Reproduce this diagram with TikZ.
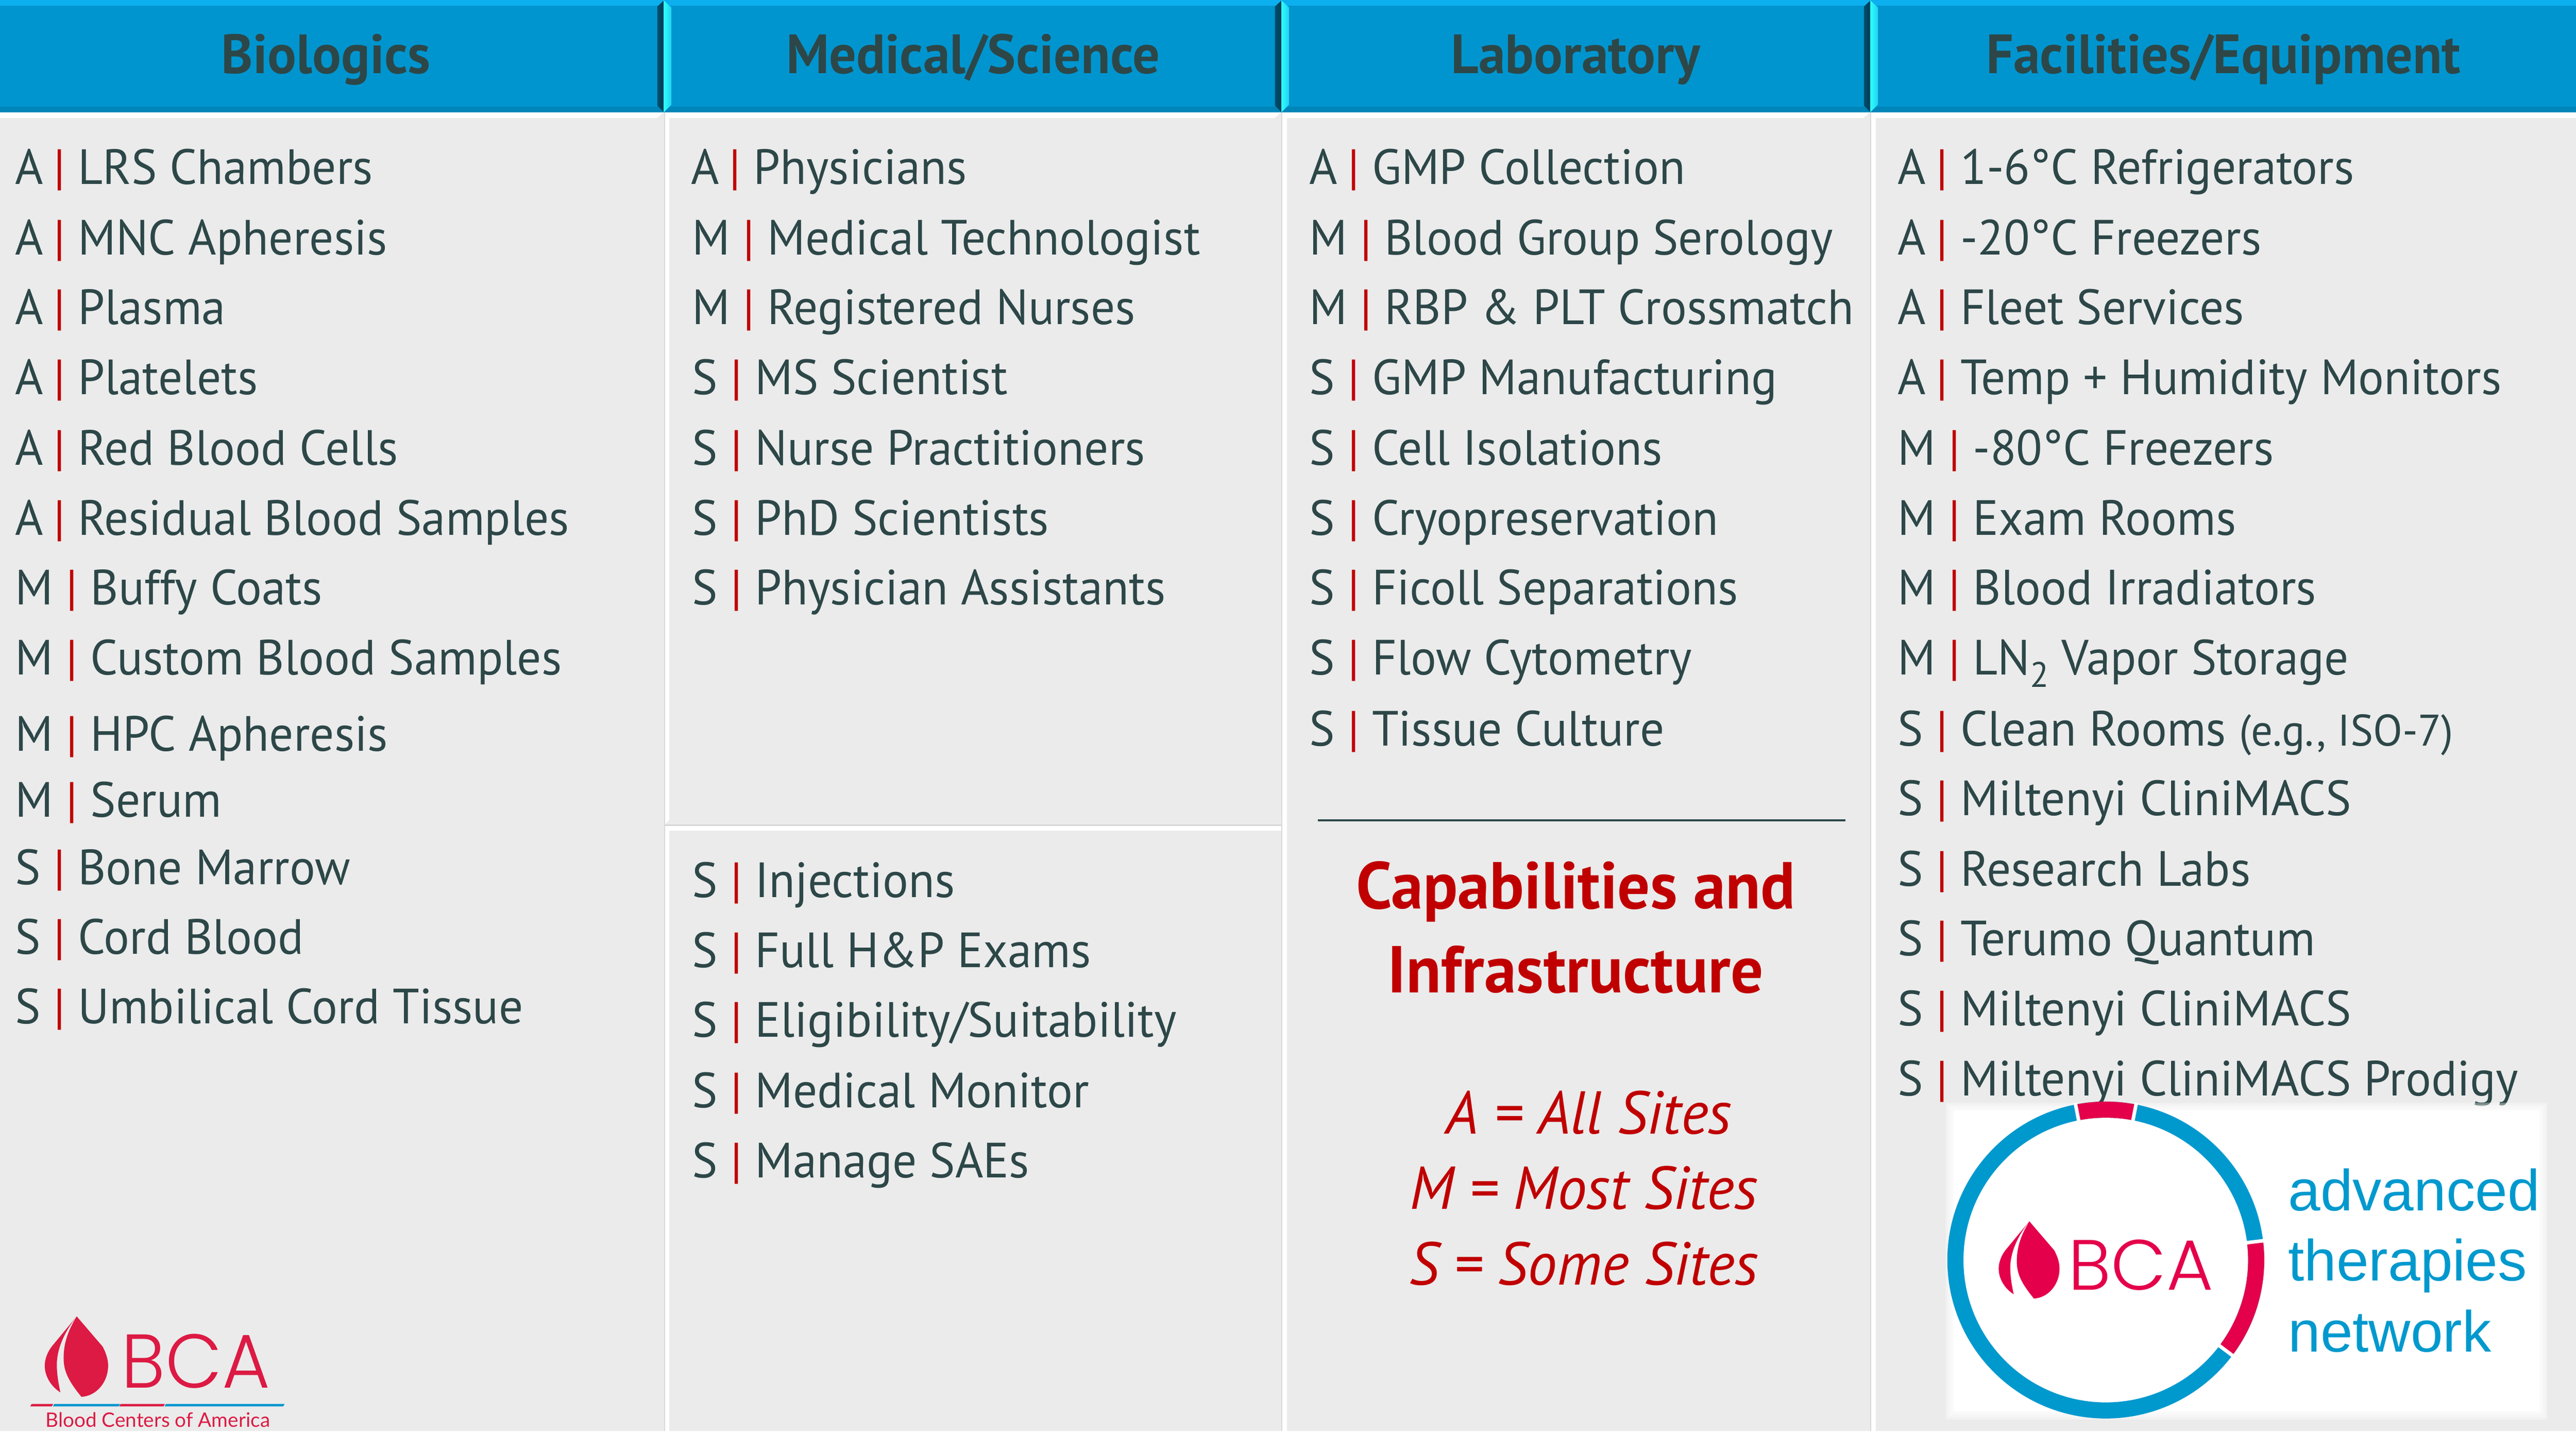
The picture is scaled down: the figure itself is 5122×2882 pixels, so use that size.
\documentclass[tikz,border=0pt]{standalone}
\usepackage{fontspec}
\usepackage{graphicx}
\setmainfont[FakeStretch=0.97]{PT Sans}
\newfontfamily\logofont{Poppins Light}
\newfontfamily\logotext{Lato}
\newfontfamily\arialfont{Liberation Sans}
\definecolor{hdrblue}{HTML}{0095CF}
\definecolor{hdrtop}{HTML}{0DB0EE}
\definecolor{hdrbot}{HTML}{0085B8}
\definecolor{panelgrey}{HTML}{EBEBEB}
\definecolor{hairgrey}{HTML}{D8D8D8}
\definecolor{inkdark}{HTML}{2D4748}
\definecolor{barred}{HTML}{C00000}
\definecolor{bevdark}{HTML}{013A54}
\definecolor{bevdarkedge}{HTML}{02506E}
\definecolor{bevcyan}{HTML}{2CFFFF}
\definecolor{bevcyanedge}{HTML}{25D0F0}
\definecolor{logored}{HTML}{DC1A43}
\definecolor{logotwored}{HTML}{E4004A}
\definecolor{ringblue}{HTML}{0099CE}
\tikzset{
  hdrtext/.style={font=\fontsize{31.3}{34}\selectfont\bfseries,text=inkdark,anchor=base,inner sep=0pt},
  rowtext/.style={font=\fontsize{28}{32}\selectfont,text=inkdark,anchor=base west,inner sep=0pt},
  captext/.style={font=\fontsize{37.5}{40}\selectfont\bfseries,text=barred,anchor=base,inner sep=0pt},
  keytext/.style={font=\fontsize{34.2}{36}\selectfont\itshape,text=barred,anchor=base,inner sep=0pt},
  bluetext/.style={font=\arialfont\fontsize{32.8}{36}\selectfont,text=ringblue,anchor=base west,inner sep=0pt},
  logopart/.style={inner sep=0pt,anchor=south west},
}
\newcommand{\rowitem}[5]{\node[rowtext] (#1) at (#2,#3) {#4 {\color{barred}|} #5};}
\newcommand{\keyA}{A\kern-1.5pt\relax}
\newcommand{\dropshape}{%
  \fill (0,0) -- (51.5,60) .. controls (58,72) and (62.5,85) .. (62.5,98)
    .. controls (62.5,130) and (40,158) .. (9.5,160)
    .. controls (-15,130) and (-26,110) .. (-26,83)
    .. controls (-26,50) and (-15,25) .. (0,0) -- cycle;
  \fill (0,0) -- (-48,58) .. controls (-58,70) and (-63.5,85) .. (-63.5,98)
    .. controls (-63.5,120) and (-50,140) .. (-32.5,151)
    .. controls (-38,125) and (-39.5,110) .. (-39.5,96)
    .. controls (-39.5,60) and (-20,25) .. (0,0) -- cycle;}
\begin{document}
\begin{tikzpicture}[x=0.01cm,y=-0.01cm]
\useasboundingbox (0,0) rectangle (5122,2882);
\fill[white] (0,0) rectangle (5122,2882);
% panels
\fill[panelgrey] (0,223) rectangle (5122,2845);
\fill[white] (0,223) rectangle (5122,235);
\foreach \px in {1320,2548,3719}{
  \fill[panelgrey] (\px-14,235) -- (\px,223) -- (\px+2,223) -- (\px+2,235) -- cycle;
  \fill[hairgrey] (\px,223) rectangle (\px+2,2845);
  \fill[white] (\px+2,223) rectangle (\px+11,2845);
}
% middle column split
\fill[panelgrey] (1331,1630) -- (1322,1639) -- (2548,1639) -- (2548,1630) -- cycle;
\fill[hairgrey] (1322,1639) rectangle (2548,1642);
\fill[white] (1322,1642) rectangle (2548,1651);
% header
\fill[hdrblue] (0,0) rectangle (5122,223);
\fill[hdrtop] (0,0) rectangle (5122,11);
\fill[hdrbot] (0,212) rectangle (5122,223);
\foreach \px in {1320,2548,3719}{
  \shade[left color=bevdarkedge,right color=bevdark] (\px-13,13) -- (\px,1) -- (\px,223) -- (\px-13,210) -- cycle;
  \shade[left color=bevcyan,right color=bevcyanedge] (\px,1) -- (\px+15,15) -- (\px+15,208) -- (\px,223) -- cycle;
}
\node[hdrtext] (hbio) at (648,146) {Biologics};
\node[hdrtext] (hmed) at (1935,146) {Medical/Science};
\node[hdrtext] (hlab) at (3133,146) {Laboratory};
\node[hdrtext] (hfac) at (4421,146) {Facilities/Equipment};
% column 1
\rowitem{a1}{30}{366}{\keyA}{LRS Chambers}
\rowitem{a2}{30}{507}{\keyA}{MNC Apheresis}
\rowitem{a3}{30}{645}{\keyA}{Plasma}
\rowitem{a4}{30}{784}{\keyA}{Platelets}
\rowitem{a5}{30}{925}{\keyA}{Red Blood Cells}
\rowitem{a6}{30}{1064}{\keyA}{Residual Blood Samples}
\rowitem{a7}{30}{1202}{M}{Buffy Coats}
\rowitem{a8}{30}{1341}{M}{Custom Blood Samples}
\rowitem{a9}{30}{1493}{M}{HPC Apheresis}
\rowitem{a10}{30}{1624}{M}{Serum}
\rowitem{a11}{30}{1758}{S}{Bone Marrow}
\rowitem{a12}{30}{1897}{S}{Cord Blood}
\rowitem{a13}{30}{2035}{S}{Umbilical Cord Tissue}
% column 2
\rowitem{b1}{1373}{366}{\keyA}{Physicians}
\rowitem{b2}{1376}{507}{M}{Medical Technologist}
\rowitem{b3}{1376}{645}{M}{Registered Nurses}
\rowitem{b4}{1376}{784}{S}{MS Scientist}
\rowitem{b5}{1376}{925}{S}{Nurse Practitioners}
\rowitem{b6}{1376}{1064}{S}{PhD Scientists}
\rowitem{b7}{1376}{1202}{S}{Physician Assistants}
\rowitem{b8}{1376}{1784}{S}{Injections}
\rowitem{b9}{1376}{1923}{S}{Full H\&P Exams}
\rowitem{b10}{1376}{2062}{S}{Eligibility/Suitability}
\rowitem{b11}{1376}{2202}{S}{Medical Monitor}
\rowitem{b12}{1376}{2341}{S}{Manage SAEs}
% column 3
\rowitem{c1}{2603}{366}{\keyA}{GMP Collection}
\rowitem{c2}{2603}{507}{M}{Blood Group Serology}
\rowitem{c3}{2603}{645}{M}{RBP \& PLT Crossmatch}
\rowitem{c4}{2603}{784}{S}{GMP Manufacturing}
\rowitem{c5}{2603}{925}{S}{Cell Isolations}
\rowitem{c6}{2603}{1064}{S}{Cryopreservation}
\rowitem{c7}{2603}{1202}{S}{Ficoll Separations}
\rowitem{c8}{2603}{1341}{S}{Flow Cytometry}
\rowitem{c9}{2603}{1483}{S}{Tissue Culture}
\coordinate (ruleL) at (2620,1631);
\coordinate (ruleR) at (3669,1631);
\draw[inkdark,line width=1pt] (ruleL) -- (ruleR);
\node[captext] (cap1) at (3133,1807) {Capabilities and};
\node[captext] (cap2) at (3133,1973) {Infrastructure};
\node[keytext] (k1) at (3159,2254) {A = All Sites};
\node[keytext] (k2) at (3149,2404) {M = Most Sites};
\node[keytext] (k3) at (3149,2554) {S = Some Sites};
% column 4
\rowitem{d1}{3773}{366}{\keyA}{1-6°C Refrigerators}
\rowitem{d2}{3773}{507}{\keyA}{-20°C Freezers}
\rowitem{d3}{3773}{645}{\keyA}{Fleet Services}
\rowitem{d4}{3773}{784}{\keyA}{Temp + Humidity Monitors}
\rowitem{d5}{3773}{925}{M}{-80°C Freezers}
\rowitem{d6}{3773}{1064}{M}{Exam Rooms}
\rowitem{d7}{3773}{1202}{M}{Blood Irradiators}
\rowitem{d8}{3773}{1341}{M}{LN\raisebox{-0.25em}{\fontsize{20}{22}\selectfont 2} Vapor Storage}
\rowitem{d9}{3773}{1483}{S}{Clean Rooms {\fontsize{25}{28}\selectfont (e.g., ISO-7)}}
\rowitem{d10}{3773}{1621}{S}{Miltenyi CliniMACS}
\rowitem{d11}{3773}{1761}{S}{Research Labs}
\rowitem{d12}{3773}{1900}{S}{Terumo Quantum}
\rowitem{d13}{3773}{2039}{S}{Miltenyi CliniMACS}
\rowitem{d14}{3773}{2178}{S}{Miltenyi CliniMACS Prodigy}
% logo 1
\begin{scope}[shift={(152.5,2617)},color=logored,fill=logored]
\dropshape
\end{scope}
\node[logopart,text=logored] (bcaone) at (241,2761) {\resizebox{2.95cm}{1.07cm}{\logofont BCA}};
\fill[logored] (60,2796) -- (63,2791) -- (106,2791) -- (103,2796) -- cycle;
\fill[hdrblue] (105,2796) -- (108,2791) -- (239,2791) -- (236,2796) -- cycle;
\fill[logored] (237,2796) -- (240,2791) -- (328,2791) -- (325,2796) -- cycle;
\fill[hdrblue] (327,2796) -- (330,2791) -- (566,2791) -- (563,2796) -- cycle;
\node[logopart,text=logored,anchor=base west] (bcaname) at (90,2837) {\resizebox{4.46cm}{!}{\logotext Blood Centers of America}};
% logo 2
\foreach \gr in {0,4,8,12}{\fill[white,opacity=0.35] (3868+\gr,2192+\gr) rectangle (5065-\gr,2822-\gr);}
\fill[white] (3884,2208) rectangle (5049,2806);
\coordinate (ringc) at (4187,2505);
\draw[ringblue,line width=0.32cm] (ringc) circle[radius=299];
\draw[logotwored,line width=0.32cm] (ringc) ++(-79:299) arc[start angle=-79,end angle=-101,radius=299];
\draw[logotwored,line width=0.32cm] (ringc) ++(-7:299) arc[start angle=-7,end angle=37,radius=299];
\foreach \ang in {-79,-101,-7,37}{\draw[white,line width=2pt] (ringc) ++(\ang:280) -- ++(\ang:38);}
\begin{scope}[shift={(4035,2428)},scale=0.96,color=logotwored,fill=logotwored]
\dropshape
\end{scope}
\node[logopart,text=logotwored] (bcatwo) at (4112,2566) {\resizebox{2.88cm}{1cm}{\logofont BCA}};
\node[bluetext] (adv) at (4549,2407) {advanced};
\node[bluetext] (ther) at (4549,2546) {therapies};
\node[bluetext] (netw) at (4549,2687) {network};
\end{tikzpicture}
\end{document}
